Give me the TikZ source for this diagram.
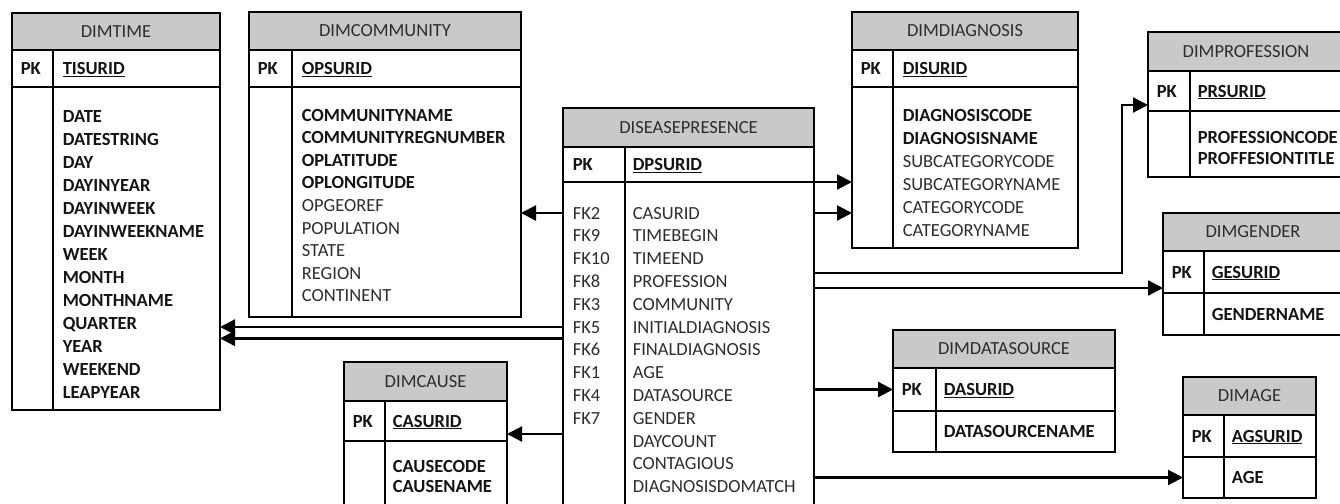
\documentclass[tikz,border=0pt]{standalone}
\usepackage{fontspec}
\setmainfont{Carlito}
\usepackage{tikz}
\usetikzlibrary{arrows.meta}
\usetikzlibrary{positioning}
\usetikzlibrary{calc}
\definecolor{hdgray}{RGB}{201,201,201}
\definecolor{txtgray}{RGB}{45,45,45}
\newcommand{\tabfont}{\fontsize{18.5}{22}\selectfont}

\begin{document}
\begin{tikzpicture}[x=1pt,y=-1pt,line width=1.6pt,font=\tabfont,
	hd/.style={draw,fill=hdgray,anchor=north west,inner sep=0pt,outer sep=0pt,text=txtgray},
	rw/.style={draw,anchor=north west,inner sep=0pt,outer sep=0pt},
	fld/.style={anchor=west,inner sep=0pt,text height=12pt,text depth=0pt},
	bf/.style={fld,font=\tabfont\bfseries,text=black!92},
	rf/.style={fld,text=txtgray},
	fk/.style={line width=2.2pt,-{Triangle[length=15pt,width=15pt]}}]
\useasboundingbox (0,0) rectangle (1340,503);
\clip (0,0) rectangle (1340,503);

% DIMTIME
\node (time) at (12,13) [hd,minimum width=208,minimum height=37] {DIMTIME};
\node (timek) at (time.south west) [rw,minimum width=208,minimum height=37] {};
\node (timeb) at (timek.south west) [rw,minimum width=208,minimum height=323] {};
\draw ($(timek.north west)+(41,0)$) -- ($(timeb.south west)+(41,0)$);
\node (timepk) at ($(timek.west)+(8,0)$) [bf] {PK};
\node (timeid) at ($(timek.west)+(50,0)$) [bf] {\underline{TISURID}};
\foreach \f [count=\i from 0] in {DATE,DATESTRING,DAY,DAYINYEAR,DAYINWEEK,DAYINWEEKNAME,WEEK,MONTH,MONTHNAME,QUARTER,YEAR,WEEKEND,LEAPYEAR} {
\node (time\i) at ($(timeb.north west)+(50,29+23*\i)$) [bf] {\f};
}

% DIMCOMMUNITY
\node (com) at (249,12) [hd,minimum width=272,minimum height=38] {DIMCOMMUNITY};
\node (comk) at (com.south west) [rw,minimum width=272,minimum height=37] {};
\node (comb) at (comk.south west) [rw,minimum width=272,minimum height=230] {};
\draw ($(comk.north west)+(43,0)$) -- ($(comb.south west)+(43,0)$);
\node (compk) at ($(comk.west)+(8,0)$) [bf] {PK};
\node (comid) at ($(comk.west)+(52,0)$) [bf] {\underline{OPSURID}};
\foreach \f [count=\i from 0] in {COMMUNITYNAME,COMMUNITYREGNUMBER,OPLATITUDE,OPLONGITUDE} {
\node (com\i) at ($(comb.north west)+(52,28+22.6*\i)$) [bf] {\f};
}
\foreach \f [count=\i from 4] in {OPGEOREF,POPULATION,STATE,REGION,CONTINENT} {
\node (com\i) at ($(comb.north west)+(52,28+22.6*\i)$) [rf] {\f};
}

% DISEASEPRESENCE
\node (dp) at (563,108) [hd,minimum width=251,minimum height=39] {DISEASEPRESENCE};
\node (dpk) at (dp.south west) [rw,minimum width=251,minimum height=35] {};
\node (dpb) at (dpk.south west) [rw,minimum width=251,minimum height=340] {};
\draw ($(dpk.north west)+(62,0)$) -- ($(dpb.south west)+(62,0)$);
\node (dppk) at ($(dpk.west)+(9,0)$) [bf] {PK};
\node (dpid) at ($(dpk.west)+(69,0)$) [bf] {\underline{DPSURID}};
\foreach \k [count=\i from 0] in {FK2,FK9,FK10,FK8,FK3,FK5,FK6,FK1,FK4,FK7} {
\node (fk\i) at ($(dpb.north west)+(9,31+22.8*\i)$) [rf] {\k};
}
\foreach \f [count=\i from 0] in {CASURID,TIMEBEGIN,TIMEEND,PROFESSION,COMMUNITY,INITIALDIAGNOSIS,FINALDIAGNOSIS,AGE,DATASOURCE,GENDER,DAYCOUNT,CONTAGIOUS,DIAGNOSISDOMATCH} {
\node (dp\i) at ($(dpb.north west)+(69,31+22.8*\i)$) [rf] {\f};
}

% DIMDIAGNOSIS
\node (diag) at (852,12) [hd,minimum width=226,minimum height=38] {DIMDIAGNOSIS};
\node (diagk) at (diag.south west) [rw,minimum width=226,minimum height=37] {};
\node (diagb) at (diagk.south west) [rw,minimum width=226,minimum height=161] {};
\draw ($(diagk.north west)+(41,0)$) -- ($(diagb.south west)+(41,0)$);
\node (diagpk) at ($(diagk.west)+(8,0)$) [bf] {PK};
\node (diagid) at ($(diagk.west)+(50,0)$) [bf] {\underline{DISURID}};
\foreach \f [count=\i from 0] in {DIAGNOSISCODE,DIAGNOSISNAME} {
\node (diag\i) at ($(diagb.north west)+(50,28+23*\i)$) [bf] {\f};
}
\foreach \f [count=\i from 2] in {SUBCATEGORYCODE,SUBCATEGORYNAME,CATEGORYCODE,CATEGORYNAME} {
\node (diag\i) at ($(diagb.north west)+(50,28+23*\i)$) [rf] {\f};
}

% DIMPROFESSION
\node (prof) at (1148,32) [hd,minimum width=210,minimum height=39,text width=190,align=center] {\hspace*{-14pt}DIMPROFESSION};
\node (profk) at (prof.south west) [rw,minimum width=210,minimum height=40] {};
\node (profb) at (profk.south west) [rw,minimum width=210,minimum height=66] {};
\draw ($(profk.north west)+(42,0)$) -- ($(profb.south west)+(42,0)$);
\node (profpk) at ($(profk.west)+(8,0)$) [bf] {PK};
\node (profid) at ($(profk.west)+(49,0)$) [bf] {\underline{PRSURID}};
\foreach \f [count=\i from 0] in {PROFESSIONCODE,PROFFESIONTITLE} {
\node (prof\i) at ($(profb.north west)+(49,26+21*\i)$) [bf] {\f};
}

% DIMGENDER
\node (gen) at (1163,213) [hd,minimum width=190,minimum height=38,text width=170,align=center] {\hspace*{-10pt}DIMGENDER};
\node (genk) at (gen.south west) [rw,minimum width=190,minimum height=42] {};
\node (genb) at (genk.south west) [rw,minimum width=190,minimum height=42] {};
\draw ($(genk.north west)+(41,0)$) -- ($(genb.south west)+(41,0)$);
\node (genpk) at ($(genk.west)+(8,0)$) [bf] {PK};
\node (genid) at ($(genk.west)+(48,0)$) [bf] {\underline{GESURID}};
\node (gen0) at ($(genb.west)+(48,0)$) [bf] {GENDERNAME};

% DIMCAUSE
\node (cause) at (344,362) [hd,minimum width=163,minimum height=39] {DIMCAUSE};
\node (causek) at (cause.south west) [rw,minimum width=163,minimum height=40] {};
\node (causeb) at (causek.south west) [rw,minimum width=163,minimum height=80] {};
\draw ($(causek.north west)+(41,0)$) -- ($(causeb.south west)+(41,0)$);
\node (causepk) at ($(causek.west)+(8,0)$) [bf] {PK};
\node (causeid) at ($(causek.west)+(48,0)$) [bf] {\underline{CASURID}};
\foreach \f [count=\i from 0] in {CAUSECODE,CAUSENAME} {
\node (cause\i) at ($(causeb.north west)+(48,25+20*\i)$) [bf] {\f};
}

% DIMDATASOURCE
\node (ds) at (893,330) [hd,minimum width=222,minimum height=38] {DIMDATASOURCE};
\node (dsk) at (ds.south west) [rw,minimum width=222,minimum height=43] {};
\node (dsb) at (dsk.south west) [rw,minimum width=222,minimum height=41] {};
\draw ($(dsk.north west)+(43,0)$) -- ($(dsb.south west)+(43,0)$);
\node (dspk) at ($(dsk.west)+(8,0)$) [bf] {PK};
\node (dsid) at ($(dsk.west)+(50,0)$) [bf] {\underline{DASURID}};
\node (ds0) at ($(dsb.west)+(50,0)$) [bf] {DATASOURCENAME};

% DIMAGE
\node (age) at (1183,377) [hd,minimum width=133,minimum height=38] {DIMAGE};
\node (agek) at (age.south west) [rw,minimum width=133,minimum height=42] {};
\node (ageb) at (agek.south west) [rw,minimum width=133,minimum height=41] {};
\draw ($(agek.north west)+(41,0)$) -- ($(ageb.south west)+(41,0)$);
\node (agepk) at ($(agek.west)+(8,0)$) [bf] {PK};
\node (ageid) at ($(agek.west)+(48,0)$) [bf] {\underline{AGSURID}};
\node (age0) at ($(ageb.west)+(48,0)$) [bf] {AGE};

% connectors
\coordinate (fin) at ($(dp5)!0.5!(dp6)$);
\coordinate (cz) at ($(causek.south east)+(0,-7)$);
\coordinate (pr) at (1122,273);
\coordinate (ge) at ($(genk.south west)+(0,-5)$);
\draw[fk] (dp0 -| dpb.west) -- (dp0 -| comb.east);
\draw[fk] (dp5 -| dpb.west) -- (dp5 -| timeb.east);
\draw[fk] (fin -| dpb.west) -- (fin -| timeb.east);
\draw[fk] (cz -| dpb.west) -- (cz);
\draw[fk] (dpk.south east) -- (dpk.south east -| diagb.west);
\draw[fk] (dp0 -| dpb.east) -- (dp0 -| diagb.west);
\draw[fk] (pr -| dpb.east) -- (pr) |- ($(profk.south west)+(0,-6)$);
\draw[fk] (ge -| dpb.east) -- (ge);
\draw[fk] (dsk.west -| dpb.east) -- (dsk.west);
\draw[fk] (ageb.west -| dpb.east) -- (ageb.west);
\end{tikzpicture}
\end{document}
